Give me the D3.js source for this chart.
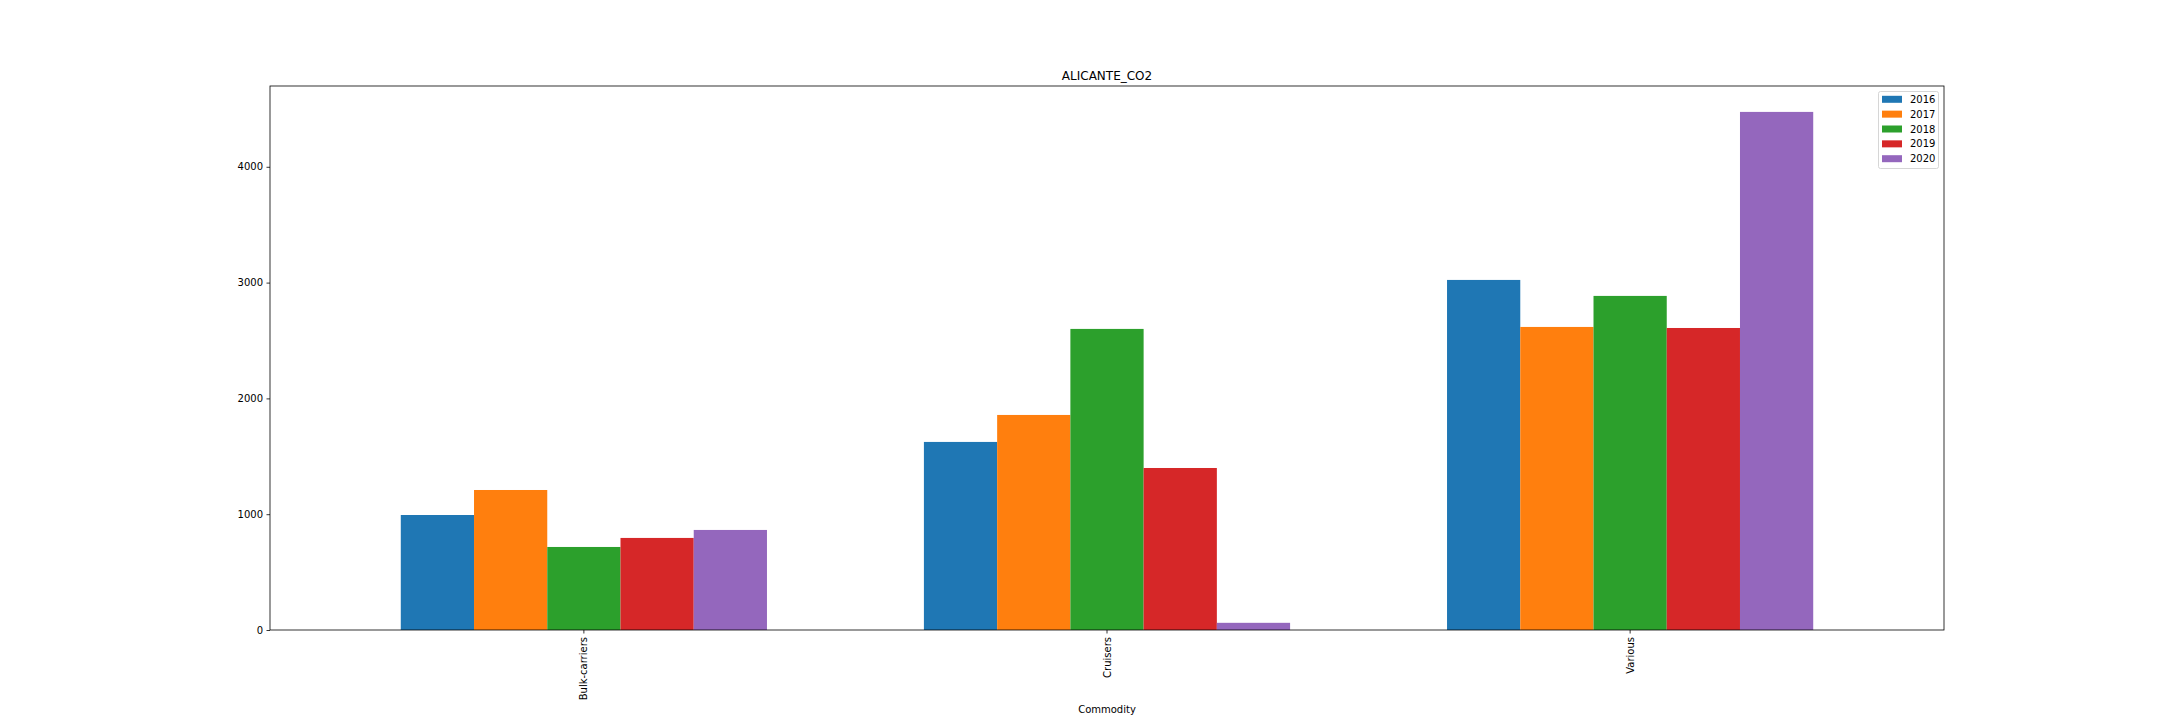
<!DOCTYPE html>
<html>
<head>
<meta charset="utf-8">
<script src="https://cdn.jsdelivr.net/npm/d3@7"></script>
<style>
  html, body { margin: 0; padding: 0; background: #fff; }
  svg { display: block; }
  text { font-family: "DejaVu Sans", sans-serif; }
</style>
</head>
<body>
<svg id="chart" width="2160" height="720"></svg>
<script>
// ---- data ----
const categories = ["Bulk-carriers", "Cruisers", "Various"];
const years = ["2016", "2017", "2018", "2019", "2020"];
const values2016 = [993, 1624, 3023];
const values2017 = [1209, 1857, 2617];
const values2018 = [717, 2600, 2885];
const values2019 = [795, 1399, 2608];
const values2020 = [864, 62, 4474];
const yTicks = [0, 1000, 2000, 3000, 4000];
const colors = ["#1f77b4", "#ff7f0e", "#2ca02c", "#d62728", "#9467bd"];
const chartTitle = "ALICANTE_CO2";
const xLabel = "Commodity";

const seriesValues = [values2016, values2017, values2018, values2019, values2020];

// ---- layout ----
const mLeft = 270, mRight = 1944, mTop = 86, mBottom = 630;

const svg = d3.select("#chart");

const yMax = d3.max(seriesValues.flat()) * 1.05;
const y = d3.scaleLinear().domain([0, yMax]).range([mBottom, mTop]);

const x0 = d3.scaleBand().domain(categories).range([mLeft, mRight])
  .paddingInner(0.3).paddingOuter(0.25);
const x1 = d3.scaleBand().domain(years).range([0, x0.bandwidth()]).padding(0);

// bars
const g = svg.append("g");
years.forEach((yr, j) => {
  g.append("g").attr("fill", colors[j])
    .selectAll("rect")
    .data(categories.map((c, i) => ({ c, v: seriesValues[j][i] })))
    .join("rect")
    .attr("x", d => x0(d.c) + x1(yr))
    .attr("width", x1.bandwidth())
    .attr("y", d => y(d.v))
    .attr("height", d => y(0) - y(d.v));
});

// y axis
const yAxis = svg.append("g")
  .attr("transform", `translate(${mLeft},0)`)
  .call(d3.axisLeft(y).tickValues(yTicks).tickFormat(d3.format("d"))
    .tickSize(3.5).tickPadding(3.5).tickSizeOuter(0));
yAxis.select(".domain").remove();
yAxis.selectAll("text").attr("font-size", 10).attr("fill", "#000")
  .attr("font-family", "DejaVu Sans, sans-serif");
yAxis.selectAll("line").attr("stroke", "#000").attr("stroke-width", 0.8);

// x axis
const xAxis = svg.append("g")
  .attr("transform", `translate(0,${mBottom})`)
  .call(d3.axisBottom(x0).tickSize(3.5).tickPadding(3.5).tickSizeOuter(0));
xAxis.select(".domain").remove();
xAxis.selectAll("line").attr("stroke", "#000").attr("stroke-width", 0.8);
xAxis.selectAll("text")
  .attr("font-size", 10).attr("fill", "#000")
  .attr("font-family", "DejaVu Sans, sans-serif")
  .attr("text-anchor", "end")
  .attr("transform", "rotate(-90)")
  .attr("x", -7)
  .attr("y", 0)
  .attr("dy", "0.35em");

// spines
svg.append("rect")
  .attr("x", mLeft).attr("y", mTop)
  .attr("width", mRight - mLeft).attr("height", mBottom - mTop)
  .attr("fill", "none").attr("stroke", "#000").attr("stroke-width", 0.8);

// title
svg.append("text")
  .attr("x", (mLeft + mRight) / 2).attr("y", 80)
  .attr("text-anchor", "middle").attr("font-size", 12).attr("fill", "#000")
  .text(chartTitle);

// x label
svg.append("text")
  .attr("x", (mLeft + mRight) / 2).attr("y", 713)
  .attr("text-anchor", "middle").attr("font-size", 10).attr("fill", "#000")
  .text(xLabel);

// legend
const lg = svg.append("g");
lg.append("rect")
  .attr("x", 1878.5).attr("y", 91.5).attr("width", 60).attr("height", 77)
  .attr("rx", 2).attr("fill", "#fff").attr("fill-opacity", 0.8)
  .attr("stroke", "#cccccc").attr("stroke-width", 0.8);
years.forEach((yr, j) => {
  const cy = 99.3 + j * 14.85;
  lg.append("rect")
    .attr("x", 1882).attr("y", cy - 3.5).attr("width", 20).attr("height", 7)
    .attr("fill", colors[j]);
  lg.append("text")
    .attr("x", 1910).attr("y", cy).attr("dy", "0.35em")
    .attr("font-size", 10).attr("fill", "#000")
    .text(yr);
});
</script>
</body>
</html>
